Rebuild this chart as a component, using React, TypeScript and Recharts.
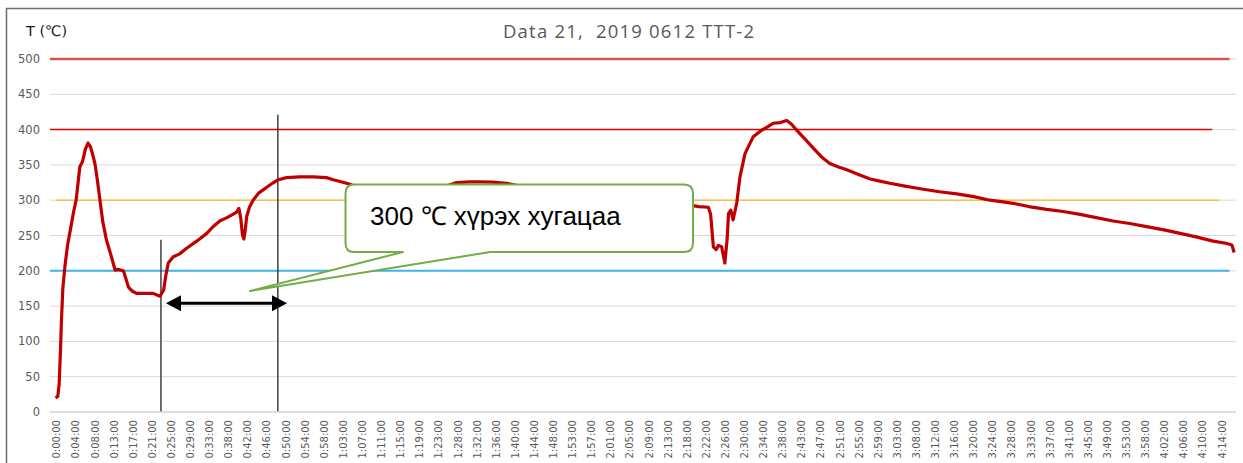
import React from 'react';
import {
  CartesianGrid,
  Line,
  LineChart,
  ReferenceLine,
  XAxis,
  YAxis,
} from 'recharts';

// time since start, minutes
const timeMin = [
  -0.3, 0.2, 0.5, 0.8, 1.0, 1.3, 1.75, 2.3, 2.8, 3.6, 4.2, 5.0, 5.6, 6.2, 6.8, 7.3, 7.8, 8.3, 8.8, 9.4,
  10.0, 10.8, 11.8, 12.7, 13.3, 14.5, 15.0, 15.6, 16.5, 17.4, 19, 21, 22.5, 23.3, 23.8, 24.3, 25.4, 26.8, 28.3, 30.5,
  32.7, 34.0, 35.6, 37, 38.1, 39.2, 39.7, 40.1, 40.5, 40.8, 41.1, 41.4, 42.0, 42.8, 44, 45.7, 47, 48.3, 50.1, 53,
  56, 58.8, 60.3, 63.2, 66, 70, 75, 80, 84, 87.2, 90, 92.3, 95, 98.1, 101, 105, 110, 115, 120, 125,
  130, 135, 138.1, 140, 142.1, 142.6, 143.2, 143.8, 144.3, 145.0, 145.7, 146.2, 146.5, 147.0, 147.5, 148.3, 149.0, 150.1, 151.9, 153.7,
  155, 156.3, 157.8, 159.2, 160.2, 161.4, 163.4, 165.4, 167, 168.6, 170.5, 172.3, 175, 177.4, 179.5, 181.7, 185, 189, 192.5, 196.3,
  200, 203.5, 206, 208.6, 212, 215.9, 219.5, 223.2, 227, 230.4, 234, 237.7, 241.5, 245, 248.5, 252.2, 255, 256.3, 256.8,
];

// temperature, °C
const tempC = [
  20, 22, 40, 90, 130, 175, 206, 235, 253, 282, 300, 347, 355, 372, 381, 376, 365, 352, 330, 300,
  270, 244, 222, 201, 202, 200, 190, 177, 171, 168, 168, 168, 164, 173, 195, 211, 220, 224, 232, 242,
  253, 262, 271, 275, 279, 283, 288.5, 275, 250, 245, 258, 277, 290, 300, 310, 318, 324, 329, 332, 333,
  333, 332, 329, 324, 318, 315, 315, 316, 318, 325, 326, 326, 325.5, 324, 320, 316, 311, 307, 303, 300,
  297, 294, 293, 291, 290, 280, 234, 230, 236, 234, 211, 245, 281, 286, 272, 296, 333, 366, 390, 399,
  404, 409, 410, 413, 408, 399, 385, 371, 360, 352, 347, 343, 336, 330, 327, 324, 320, 315.5, 312, 309,
  305, 300, 298, 295.6, 291, 287, 284, 280, 275, 270.5, 267, 262.5, 258, 253, 248, 242, 239, 236.5, 226,
];

const tickLabels = [
  '0:00:00', '0:04:00', '0:08:00', '0:13:00', '0:17:00', '0:21:00', '0:25:00', '0:29:00', '0:33:00', '0:38:00',
  '0:42:00', '0:46:00', '0:50:00', '0:54:00', '0:58:00', '1:03:00', '1:07:00', '1:11:00', '1:15:00', '1:19:00',
  '1:23:00', '1:28:00', '1:32:00', '1:36:00', '1:40:00', '1:44:00', '1:48:00', '1:53:00', '1:57:00', '2:01:00',
  '2:05:00', '2:09:00', '2:13:00', '2:18:00', '2:22:00', '2:26:00', '2:30:00', '2:34:00', '2:38:00', '2:43:00',
  '2:47:00', '2:51:00', '2:55:00', '2:59:00', '3:03:00', '3:08:00', '3:12:00', '3:16:00', '3:20:00', '3:24:00',
  '3:28:00', '3:33:00', '3:37:00', '3:41:00', '3:45:00', '3:49:00', '3:53:00', '3:58:00', '4:02:00', '4:06:00',
  '4:10:00', '4:14:00',
];
const tickStepSec = 250;

const yTicks = [0, 50, 100, 150, 200, 250, 300, 350, 400, 450, 500];

// limit lines
const limitValues = [500, 400, 300, 200];
const limitStart = [-1.5, -1.5, -0.2, -1.5];
const limitEnd = [255.8, 252, 253.5, 255.8];
const limitColors = ['#d65454', '#e00000', '#f7c04a', '#41b4e6'];
const limitWidths = [2.5, 1.5, 1.5, 2];

// markers: start / reach-300 lines, arrow
const markerTimes = [22.7, 48.2];
const markerTops = [244, 421];
const arrowFrom = 23.8;
const arrowTo = 50.2;
const arrowLevel = 154;

const data = timeMin.map((t, i) => ({ t, temp: tempC[i] }));
const xTicks = tickLabels.map((_, i) => (i * tickStepSec) / 60);

const XTick = (props: any) => {
  const { x, y, payload } = props;
  const idx = Math.round((payload.value * 60) / tickStepSec);
  return (
    <g transform={`translate(${x},${y})`}>
      <text
        x={0}
        y={0}
        dy="0.35em"
        textAnchor="end"
        transform="rotate(-90)"
        fill="#595959"
        fontSize={10}
        fontFamily="DejaVu Sans"
      >
        {tickLabels[idx]}
      </text>
    </g>
  );
};

const ArrowShape = (props: any) => {
  const { x1, y1, x2 } = props;
  const h = 15;
  const w = 8;
  return (
    <g>
      <line x1={x1 + h - 2} y1={y1} x2={x2 - h + 2} y2={y1} stroke="#000" strokeWidth={3} />
      <polygon points={`${x1},${y1} ${x1 + h},${y1 - w} ${x1 + h},${y1 + w}`} fill="#000" />
      <polygon points={`${x2},${y1} ${x2 - h},${y1 - w} ${x2 - h},${y1 + w}`} fill="#000" />
    </g>
  );
};

export default function App() {
  return (
    <div style={{ position: 'absolute', left: 0, top: 0, width: 1243, height: 463, background: '#fff' }}>
      <LineChart
        width={1243}
        height={463}
        data={data}
        margin={{ top: 59, right: 7, left: 0, bottom: 0 }}
      >
        <CartesianGrid vertical={false} stroke="#d9d9d9" />
        <XAxis
          dataKey="t"
          type="number"
          domain={[-1.5, 257.2]}
          ticks={xTicks}
          interval={0}
          height={51}
          tickLine={false}
          axisLine={{ stroke: '#d9d9d9', strokeWidth: 1.5 }}
          tick={(p: any) => <XTick {...p} />}
        />
        <YAxis
          type="number"
          domain={[0, 500]}
          ticks={yTicks}
          width={50}
          axisLine={false}
          tickLine={false}
          tickMargin={4}
          tick={{ fill: '#595959', fontSize: 11.5, fontFamily: 'DejaVu Sans' }}
        />
        {limitValues.map((v, i) => (
          <ReferenceLine
            key={v}
            segment={[
              { x: limitStart[i], y: v },
              { x: limitEnd[i], y: v },
            ]}
            stroke={limitColors[i]}
            strokeWidth={limitWidths[i]}
          />
        ))}
        {markerTimes.map((t, i) => (
          <ReferenceLine
            key={t}
            segment={[
              { x: t, y: 0 },
              { x: t, y: markerTops[i] },
            ]}
            stroke="#404040"
            strokeWidth={1.5}
          />
        ))}
        <ReferenceLine
          segment={[
            { x: arrowFrom, y: arrowLevel },
            { x: arrowTo, y: arrowLevel },
          ]}
          shape={(p: any) => <ArrowShape {...p} />}
        />
        <Line
          type="linear"
          dataKey="temp"
          stroke="#c00000"
          strokeWidth={3.2}
          strokeLinejoin="round"
          dot={false}
          activeDot={false}
          isAnimationActive={false}
        />
      </LineChart>
      <svg
        width={1243}
        height={463}
        style={{ position: 'absolute', left: 0, top: 0, pointerEvents: 'none' }}
      >
        <line x1={6.5} y1={8} x2={6.5} y2={463} stroke="#6e6e6e" strokeWidth={1.5} />
        <line x1={6} y1={8.5} x2={1243} y2={8.5} stroke="#6e6e6e" strokeWidth={1.5} />
        <text
          x={503}
          y={38}
          xmlSpace="preserve"
          fill="#595959"
          fontSize={18.5}
          letterSpacing={1.2}
          fontFamily="Open Sans"
        >
          {'Data 21,  2019 0612 TTT-2'}
        </text>
        <text x={26} y={36} fill="#1a1a1a" fontSize={14.5} fontFamily="DejaVu Sans">
          T (℃)
        </text>
        <path
          d="M 354 184.5 H 684 Q 693 184.5 693 193.5 V 243 Q 693 252 684 252 H 490 L 250 291 L 403 252 H 354 Q 345.5 252 345.5 243 V 193.5 Q 345.5 184.5 354 184.5 Z"
          fill="#fff"
          stroke="#70ad47"
          strokeWidth={2}
          strokeLinejoin="round"
        />
        <text x={370} y={225} fill="#000" fontSize={26} fontFamily="Liberation Sans">
          300 ℃ хүрэх хугацаа
        </text>
      </svg>
    </div>
  );
}
